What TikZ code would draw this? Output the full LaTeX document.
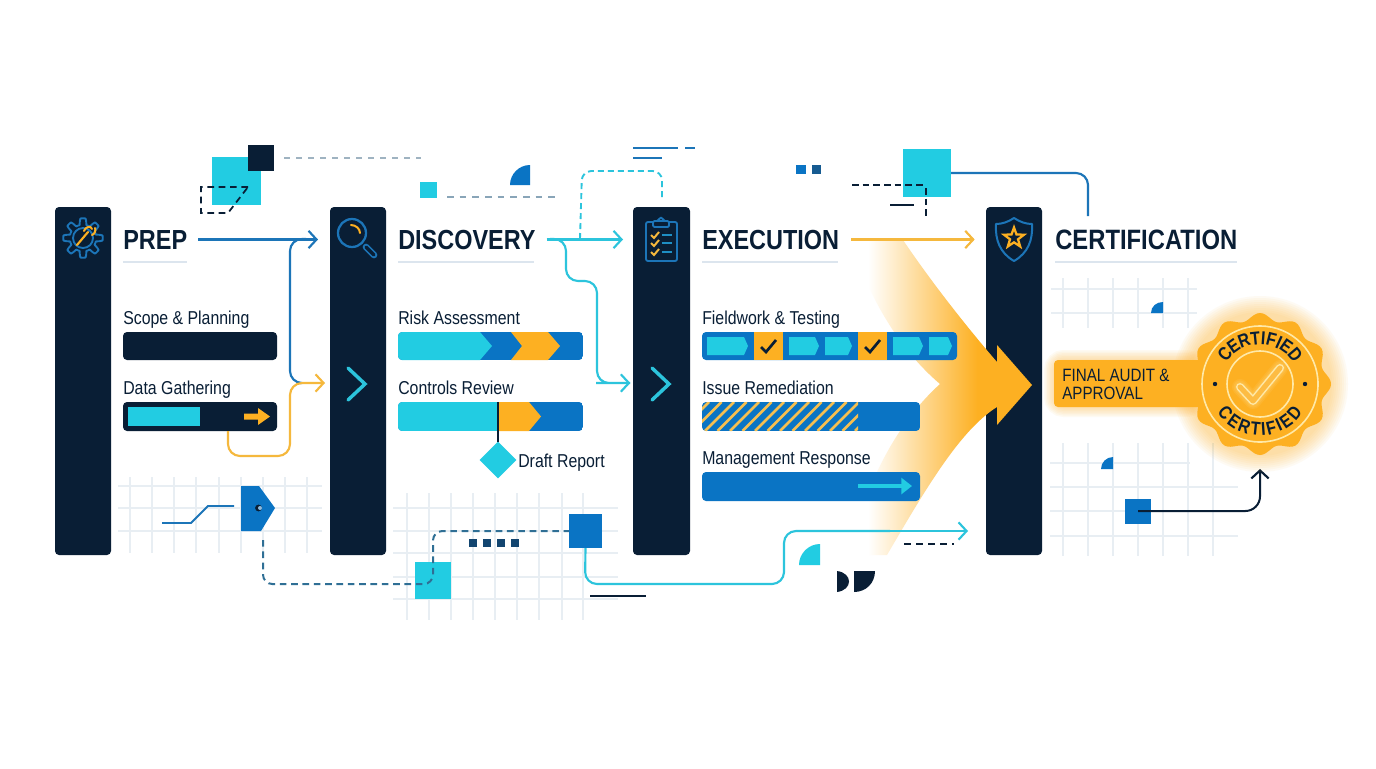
\documentclass[tikz,border=0pt]{standalone}
\usepackage{fontspec}
\setmainfont[FakeStretch=0.85]{Liberation Sans}
\usetikzlibrary{arrows.meta}
\definecolor{navy}{HTML}{091E35}
\definecolor{cyanc}{HTML}{22CCE2}
\definecolor{bluec}{HTML}{0A74C4}
\definecolor{goldc}{HTML}{FDB022}
\definecolor{gridc}{HTML}{E8EEF3}
\definecolor{rulec}{HTML}{DCE5EE}
\definecolor{linkb}{HTML}{1C75B8}
\definecolor{linkc}{HTML}{2CC4DC}
\definecolor{linky}{HTML}{F5B83D}
\definecolor{dashb}{HTML}{2F6F95}
\definecolor{dashg}{HTML}{9FB3C1}
\definecolor{cream}{HTML}{FFE9A8}
\pgfdeclarehorizontalshading{bigfade}{100bp}{color(0bp)=(white);color(25bp)=(white);color(30bp)=(white);color(60bp)=(goldc);color(100bp)=(goldc)}
\tikzset{
  x=0.75pt,y=-0.75pt,
  blk/.style n args={3}{rectangle,inner sep=0pt,outer sep=0pt,minimum width=#1*0.75pt,minimum height=#2*0.75pt,fill=#3,anchor=north west},
  rbar/.style={rounded corners=3pt},
  panel/.style={rbar},
  title/.style={anchor=base west,inner sep=0pt,font=\fontsize{20.7pt}{24pt}\selectfont\bfseries,text=navy},
  lab/.style={anchor=base west,inner sep=0pt,font=\fontsize{14pt}{16pt}\selectfont,text=navy},
  sealch/.style={inner sep=0pt,font=\fontsize{14pt}{14pt}\selectfont\bfseries,text=navy},
  gridl/.style={draw=gridc,line width=0.8pt},
  uline/.style={draw=rulec,line width=2.2pt},
  conn/.style={line width=1.6pt,rounded corners=9pt},
  headv/.style={-{Straight Barb[length=6pt,width=13pt,line width=1.6pt]}},
  hair/.style={line width=1.5pt},
  dsh/.style={line width=1.5pt,dash pattern=on 5pt off 4pt},
  chev/.style={draw=linkc,line width=2.6pt,fill=none},
  icon/.style={draw=#1,line width=1.4pt,line join=round,line cap=round},
}
\begin{document}
\begin{tikzpicture}
\useasboundingbox (0,0) rectangle (1376,768);
\fill[white] (0,0) rectangle (1376,768);

% grids
\foreach \x in {130,152,174,196,219,241,263,285,307} \draw[gridl] (\x,477) -- (\x,553);
\foreach \y in {486,508,531} \draw[gridl] (118,\y) -- (322,\y);
\foreach \x in {407,429,451,473,495,517,539,562,583} \draw[gridl] (\x,493) -- (\x,620);
\foreach \y in {508,531,553,577,599} \draw[gridl] (393,\y) -- (618,\y);
\foreach \x in {1063,1088,1113,1138,1163,1188} \draw[gridl] (\x,278) -- (\x,328);
\foreach \y in {289,313} \draw[gridl] (1051,\y) -- (1197,\y);
\foreach \x in {1063,1088,1113,1138,1163,1188,1213} \draw[gridl] (\x,443) -- (\x,556);
\draw[gridl] (1050,463) -- (1190,463);
\foreach \y in {487,511,536} \draw[gridl] (1050,\y) -- (1238,\y);

% panels
\node[blk={56}{348}{navy},panel] (p1) at (55,207) {};
\node[blk={56}{348}{navy},panel] (p2) at (330,207) {};
\node[blk={57}{348}{navy},panel] (p3) at (633,207) {};
\node[blk={56}{348}{navy},panel] (p4) at (986,207) {};

% big arrow
\path[shading=bigfade] (850,240) -- (903,240) .. controls (930,280) and (965,325) .. (997,362) -- (997,345) -- (1032,385) -- (997,425) -- (997,407) .. controls (960,430) and (925,490) .. (887,555) -- (850,555) .. controls (865,480) and (900,420) .. (940,384) .. controls (900,350) and (870,300) .. (850,240) -- cycle;

% titles
\node[title] (prep) at (123,249) {PREP};
\node[title] (disc) at (398,249) {DISCOVERY};
\node[title] (exec) at (702,249) {EXECUTION};
\node[title,font=\fontsize{21pt}{24pt}\selectfont\bfseries] (cert) at (1055,249) {CERTIFICATION};
\draw[uline] (123,262) -- (187,262);
\draw[uline] (398,262) -- (534,262);
\draw[uline] (702,262) -- (838,262);
\draw[uline] (1055,262) -- (1237,262);

% labels
\node[lab] (l1) at (123,324) {Scope \& Planning};
\node[lab] (l2) at (123,394) {Data Gathering};
\node[lab] (l3) at (398,324) {Risk Assessment};
\node[lab] (l4) at (398,394) {Controls Review};
\node[lab] (l5) at (518,467) {Draft Report};
\node[lab] (l6) at (702,324) {Fieldwork \& Testing};
\node[lab] (l7) at (702,394) {Issue Remediation};
\node[lab] (l8) at (702,464) {Management Response};

% prep bars
\node[blk={154}{28}{navy},rbar] (b1) at (123,332) {};
\node[blk={154}{29}{navy},rbar] (b2) at (123,402) {};
\fill[cyanc] (128,407) rectangle (200,426);
\fill[goldc] (244,413.5) -- (258,413.5) -- (258,408) -- (270,416.5) -- (258,425) -- (258,419.5) -- (244,419.5) -- cycle;

% discovery bars
\begin{scope}
\clip[rbar] (398,332) rectangle (583,360);
\fill[bluec] (398,332) rectangle (583,360);
\fill[cyanc] (398,332) -- (480,332) -- (492,346) -- (480,360) -- (398,360) -- cycle;
\fill[goldc] (511,332) -- (548,332) -- (560,346) -- (548,360) -- (511,360) -- (522,346) -- cycle;
\end{scope}
\begin{scope}
\clip[rbar] (398,402) rectangle (583,431);
\fill[bluec] (398,402) rectangle (583,431);
\fill[cyanc] (398,402) rectangle (498,431);
\fill[goldc] (498,402) -- (529,402) -- (541,416.5) -- (529,431) -- (498,431) -- cycle;
\end{scope}
\node[blk={26}{26}{cyanc},rotate=45,anchor=center] (dia) at (498,460) {};
\draw[navy,line width=1.8pt] (498,402) -- (498,442);

% execution bars
\node[blk={255}{28}{bluec},rbar] (b6) at (702,332) {};
\fill[goldc] (754,332) rectangle (783,360);
\fill[goldc] (858,332) rectangle (887,360);
\fill[cyanc] (707,337) -- (744,337) -- (748,346) -- (744,355) -- (707,355) -- cycle;
\fill[cyanc] (789,337) -- (815,337) -- (819,346) -- (815,355) -- (789,355) -- cycle;
\fill[cyanc] (825,337) -- (848,337) -- (852,346) -- (848,355) -- (825,355) -- cycle;
\fill[cyanc] (893,337) -- (919,337) -- (923,346) -- (919,355) -- (893,355) -- cycle;
\fill[cyanc] (929,337) -- (948,337) -- (952,346) -- (948,355) -- (929,355) -- cycle;
\draw[navy,line width=2pt] (761,347) -- (766,352) -- (776,340);
\draw[navy,line width=2pt] (865,347) -- (870,352) -- (880,340);

\begin{scope}
\clip[rbar] (702,402) rectangle (920,431);
\fill[bluec] (702,402) rectangle (920,431);
\clip (702,402) rectangle (858,431);
\foreach \x in {680,692.5,...,860} \draw[linky!90!white,line width=1.9pt] (\x,431) -- (\x+29,402);
\end{scope}
\node[blk={218}{29}{bluec},rbar] (b8) at (702,472) {};
\draw[cyanc,line width=3.4pt,-{Triangle[length=8pt,width=12pt]}] (858,486) -- (912,486);

% decorative squares
\node[blk={49}{48}{cyanc}] (s1) at (212,157) {};
\node[blk={26}{26}{navy}] (s2) at (248,145) {};
\draw[navy,dsh,line width=1.3pt,dash pattern=on 5pt off 3.5pt] (248,187) -- (201,187) -- (201,213) -- (228,213) -- cycle;
\draw[dashg,dsh,dash pattern=on 4.5pt off 4.5pt] (284,158) -- (421,158);
\node[blk={17}{16}{cyanc}] (s3) at (420,182) {};
\draw[dashg!80!dashb,dsh,dash pattern=on 5pt off 4.5pt] (447,197) -- (557,197);
\fill[bluec] (510,185) .. controls (510,174) and (519,165) .. (530,165) -- (530,185) -- cycle;
\draw[linkb,line width=2pt] (633,148) -- (678,148) (685,148) -- (695,148) (633,158) -- (662,158);
\node[blk={10}{9}{bluec}] (s4) at (796,165) {};
\node[blk={9}{9}{linkb!70!navy}] (s5) at (812,165) {};
\node[blk={48}{48}{cyanc}] (s6) at (903,149) {};
\draw[navy,hair,dash pattern=on 5pt off 3pt] (852,185) -- (923,185);
\draw[navy,hair,dash pattern=on 5pt off 3pt] (926,188) -- (926,218);
\draw[navy,hair] (890,205) -- (914,205);

% bottom shapes
\node[blk={33}{34}{bluec}] (s7) at (569,514) {};
\node[blk={36}{37}{cyanc}] (s8) at (415,562) {};
\foreach \x in {469,483,497,511} \fill[linkb!45!navy] (\x,539) rectangle (\x+8,547);
\draw[navy,line width=1.4pt] (590,596) -- (636,596);
\draw[navy,line width=0.8pt] (636,596) -- (646,596);
\fill[cyanc] (799,565) .. controls (799,553.5) and (808.5,544) .. (820,544) -- (820,565) -- cycle;
\fill[navy] (837,571) .. controls (853,573) and (853,590) .. (837,592) -- cycle;
\fill[navy] (854,571) -- (875,571) .. controls (875,583) and (866,592) .. (854,592) -- cycle;
\draw[navy,hair,dash pattern=on 5.5pt off 3.5pt] (904,544) -- (954,544);

% tag
\fill[bluec] (241,486) -- (259,486) -- (275,508) -- (261,531) -- (241,531) -- cycle;
\fill[navy] (258.5,508) circle (3.4);
\fill[linkb!50!white] (260,508) circle (2);
\draw[linkb,line width=1.4pt] (162,523) -- (191,523) -- (208,506) -- (234,506);

% cert grid shapes
\fill[bluec] (1151,313) .. controls (1151,306.4) and (1156.4,302) .. (1163,302) -- (1163,313) -- cycle;
\fill[bluec] (1101,469) .. controls (1101,462.4) and (1106.4,457) .. (1113,457) -- (1113,469) -- cycle;
\node[blk={26}{25}{bluec}] (s9) at (1125,499) {};

% connectors
\coordinate (a1) at (306,239);
\coordinate (a2) at (300,383);
\coordinate (a3) at (325,383);
\coordinate (a5) at (608,383);
\coordinate (a6) at (580,239);
\coordinate (a7) at (1260,469);
\draw[linkb,conn,headv] ([xshift=8pt]prep.east) -- ([xshift=-9pt]p2.west |- prep.east);
\draw[linkb,conn] (a1) -- (290,239) -- (290,383) -- (a2);
\draw[linky,conn,headv] (228,431) -- (228,456) -- (290,456) -- (290,383) -- (a3);
\draw[linkc,conn,headv] ([xshift=8pt]disc.east) -- ([xshift=-7.5pt]p3.west |- disc.east);
\draw[linkc,conn] (550,239) -- (566,239) -- (566,281) -- (597,281) -- (597,383) -- (a5) -- (630,383);
\draw[linkc,line width=1.6pt,headv] (615,383) -- ([xshift=-2pt]p3.west |- a5);
\draw[linkc,line width=1.4pt,rounded corners=7pt,dash pattern=on 4.5pt off 3pt] (a6) -- (582,171) -- (662,171) -- (662,197);
\draw[linky,conn,headv] ([xshift=9pt]exec.east) -- ([xshift=-8.5pt]p4.west |- exec.east);
\draw[linkb,conn] (s6.east) -- (1088,173) -- (1088,216);
\draw[linkc,conn] (s7.south) -- (585,584) -- (784,584) -- (784,531) -- (890,531);
\draw[linkc,line width=1.6pt,headv] (890,531) -- (968,531);
\draw[dashb,rounded corners=7pt,line width=1.5pt,dash pattern=on 5pt off 3.5pt] (263,540) -- (263,584) -- (433,584) -- (433,531) -- (s7.west);
\draw[navy,line width=1.5pt,rounded corners=11pt,headv] (1138,511) -- (1260,511) -- (a7);

% panel icons
\draw[icon=linkb] plot[domain=0:360,samples=145,smooth] ({83+(16.5+3.2*min(1,max(-1,2.2*cos(8*\x))))*cos(\x)},{238+(16.5+3.2*min(1,max(-1,2.2*cos(8*\x))))*sin(\x)}) -- cycle;
\draw[icon=linkb] (83,238) circle (10);
\draw[goldc,line width=1.6pt,line cap=round] (77,245) -- (88,232);
\draw[goldc,line width=1.5pt,line cap=round,fill=none] (84,231) .. controls (85,227) and (91,225) .. (92,229) (92,235) .. controls (95,234) and (96,230) .. (95,228);
\draw[icon=linkb,line width=1.7pt] (352,233) circle (14);
\draw[goldc,line width=1.5pt,line cap=round] (351,225) .. controls (356,225) and (360,229) .. (360,233);
\draw[linkb,line width=5pt,line cap=round] (366,247) -- (374,255);
\draw[navy,line width=2.4pt,line cap=round] (366,247) -- (374,255);
\draw[icon=linkb,rounded corners=1.5pt] (646,222) rectangle (677,261);
\draw[icon=linkb,fill=navy,rounded corners=1pt] (653,227) rectangle (669,221);
\draw[icon=linkb] (657,221) -- (661,217.5) -- (665,221);
\foreach \y in {235,243,252} {
  \draw[linky,line width=1.5pt] (651,\y) -- (654,\y+3) -- (659,\y-3);
  \draw[linkb!70!cyanc,line width=1.2pt] (662,\y) -- (672,\y);
}
\draw[icon=linkb,line width=1.5pt] (1014,218) .. controls (1020,222) and (1026,224) .. (1032,224) .. controls (1033,240) and (1028,253) .. (1014,261) .. controls (1000,253) and (995,240) .. (996,224) .. controls (1002,224) and (1008,222) .. (1014,218) -- cycle;
\draw[draw=goldc,fill=navy,line width=1.7pt,line join=miter] (1014,227.5) -- (1016.5,234.5) -- (1024,234.7) -- (1018,239.3) -- (1020.2,246.5) -- (1014,242.3) -- (1007.8,246.5) -- (1010,239.3) -- (1004,234.7) -- (1011.5,234.5) -- cycle;
\draw[chev,line cap=round] (348,368) -- (365,384) -- (348,400);
\draw[chev,line cap=round] (652,368) -- (669,384) -- (652,400);

% glow + audit box
\foreach \w in {24,21,18,15,12,9,6,3} \draw[goldc,opacity=0.06,line width=\w*0.75pt,rounded corners=6pt] (1056,362) rectangle (1195,405);
\foreach \r in {88,86,84,82,80,78,76,74,72} \fill[goldc,opacity=0.05] (1260,384) circle (\r);
\node[blk={150}{47}{goldc},rbar] (audit) at (1054,360) {};
\node[lab,font=\fontsize{13.4pt}{16pt}\selectfont] (au1) at (1062,381) {FINAL AUDIT \&};
\node[lab,font=\fontsize{13.4pt}{16pt}\selectfont] (au2) at (1062,399) {APPROVAL};

% seal
\fill[goldc] plot[domain=0:360,samples=145,smooth] ({1260+(67.5+3.5*cos(12*\x))*cos(\x)},{384+(67.5+3.5*cos(12*\x))*sin(\x)}) -- cycle;
\draw[cream,line width=1.2pt] (1260,384) circle (58);
\draw[cream,line width=1.2pt] (1260,384) circle (33);
\foreach \w/\o in {16/0.10,13/0.12,10/0.15} \draw[cream,opacity=\o,line width=\w*0.75pt,line cap=round,line join=round] (1240,387) -- (1253,401) -- (1280,368);
\draw[cream,line width=6pt,line cap=round,line join=round] (1240,387) -- (1253,401) -- (1280,368);
\draw[goldc!85!white,line width=3.8pt,line cap=round,line join=round] (1240,387) -- (1253,401) -- (1280,368);
\fill[navy] (1215,384) circle (2.2);
\fill[navy] (1305,384) circle (2.2);
\foreach \c/\a [count=\i] in {C/-50,E/-35.1,R/-20.2,T/-5.8,I/4.2,F/14.4,I/24.5,E/35.1,D/50} {
  \node[sealch,rotate=-\a] (st\i) at ({1260+46*sin(\a)},{384-46*cos(\a)}) {\c};
  \node[sealch,rotate=\a] (sb\i) at ({1260+45*sin(\a)},{384+45*cos(\a)}) {\c};
}
\end{tikzpicture}
\end{document}
